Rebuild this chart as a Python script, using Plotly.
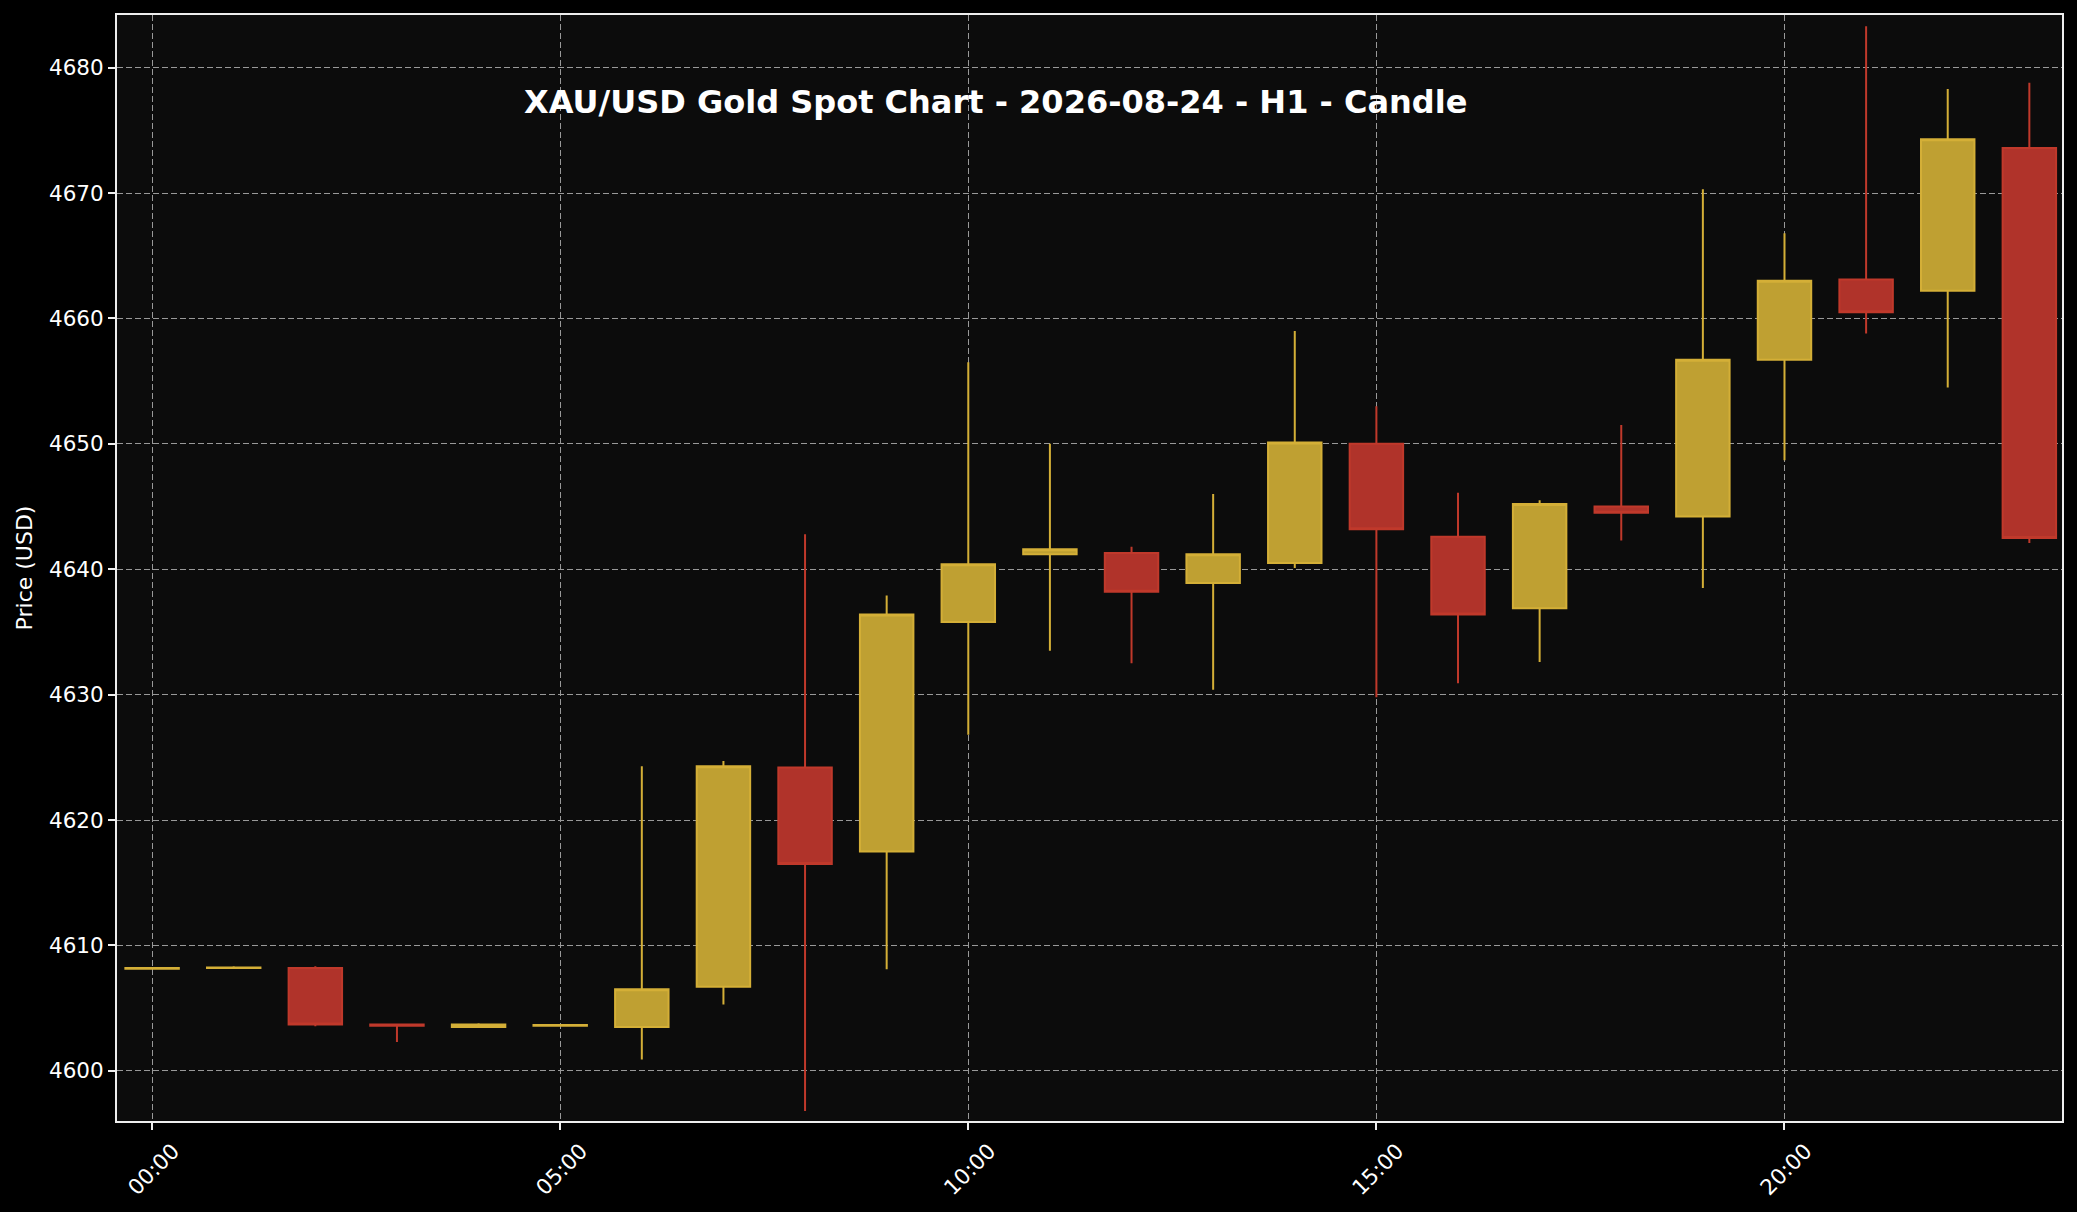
import pandas as pd
import plotly.graph_objs as go

# hourly XAU/USD candles for 2026-08-24
hours = pd.date_range("2026-08-24 00:00", periods=24, freq="h")

open_px = [4608.15, 4608.2, 4608.2, 4603.7, 4603.5, 4603.6, 4603.5, 4606.7,
           4624.2, 4617.5, 4635.8, 4641.2, 4641.3, 4638.9, 4640.5, 4650.0,
           4642.6, 4636.9, 4645.0, 4644.2, 4656.7, 4663.1, 4662.2, 4673.6]
high_px = [4608.25, 4608.35, 4608.35, 4603.7, 4603.8, 4603.7, 4624.3, 4624.7,
           4642.8, 4637.9, 4656.5, 4650.0, 4641.8, 4646.0, 4659.0, 4653.0,
           4646.1, 4645.5, 4651.5, 4670.3, 4666.8, 4683.3, 4678.3, 4678.8]
low_px = [4608.1, 4608.15, 4603.55, 4602.3, 4603.45, 4603.55, 4600.9, 4605.3,
          4596.8, 4608.1, 4626.8, 4633.5, 4632.5, 4630.4, 4640.1, 4629.8,
          4630.9, 4632.6, 4642.3, 4638.5, 4648.7, 4658.8, 4654.5, 4642.1]
close_px = [4608.2, 4608.25, 4603.7, 4603.6, 4603.7, 4603.65, 4606.5, 4624.3,
            4616.5, 4636.4, 4640.4, 4641.6, 4638.2, 4641.2, 4650.1, 4643.2,
            4636.4, 4645.2, 4644.5, 4656.7, 4663.0, 4660.5, 4674.3, 4642.5]

title = "XAU/USD Gold Spot Chart - 2026-08-24 - H1 - Candle"

candles = go.Candlestick(
    x=hours, open=open_px, high=high_px, low=low_px, close=close_px,
    increasing=dict(fillcolor="#BFA032", line=dict(color="#D4AF37", width=2)),
    decreasing=dict(fillcolor="#B0332A", line=dict(color="#C0392B", width=2)),
    showlegend=False,
)

grid = dict(showgrid=True, gridcolor="#999999", gridwidth=1.2, griddash="6px,3px",
            showline=True, linecolor="#eeeeee", linewidth=2, mirror=True,
            ticks="outside", ticklen=7, tickwidth=1.5, tickcolor="#eeeeee",
            tickfont=dict(size=21.5, color="white"), zeroline=False)

layout = go.Layout(
    width=2077, height=1212,
    paper_bgcolor="#000000", plot_bgcolor="#0c0c0c",
    font=dict(family="DejaVu Sans", color="white"),
    margin=dict(l=117, r=15, t=15, b=91),
    boxgap=0.345, boxgroupgap=0,
    title=dict(text=title, x=0.4518, xref="paper", y=0.9216, yref="paper",
               xanchor="center", yanchor="middle",
               font=dict(size=32, color="white", weight="bold")),
    xaxis=dict(type="date", range=["2026-08-23 23:34:12", "2026-08-24 23:24:00"],
               tick0="2026-08-24 00:00", dtick=5 * 3600 * 1000, tickformat="%H:%M",
               tickangle=-45, ticklabelshift=21, rangeslider=dict(visible=False), **grid),
    yaxis=dict(range=[4596.0, 4684.2], tick0=4600, dtick=10,
               title=dict(text="Price (USD)", font=dict(size=22, color="white"), standoff=10),
               **grid),
)

fig = go.Figure(data=[candles], layout=layout)
# drop the default page margin so the figure fills the window
fig.write_html("out.html", config={"displayModeBar": False},
               post_script="document.body.style.margin='0';"
                           "document.body.style.background='black';")
